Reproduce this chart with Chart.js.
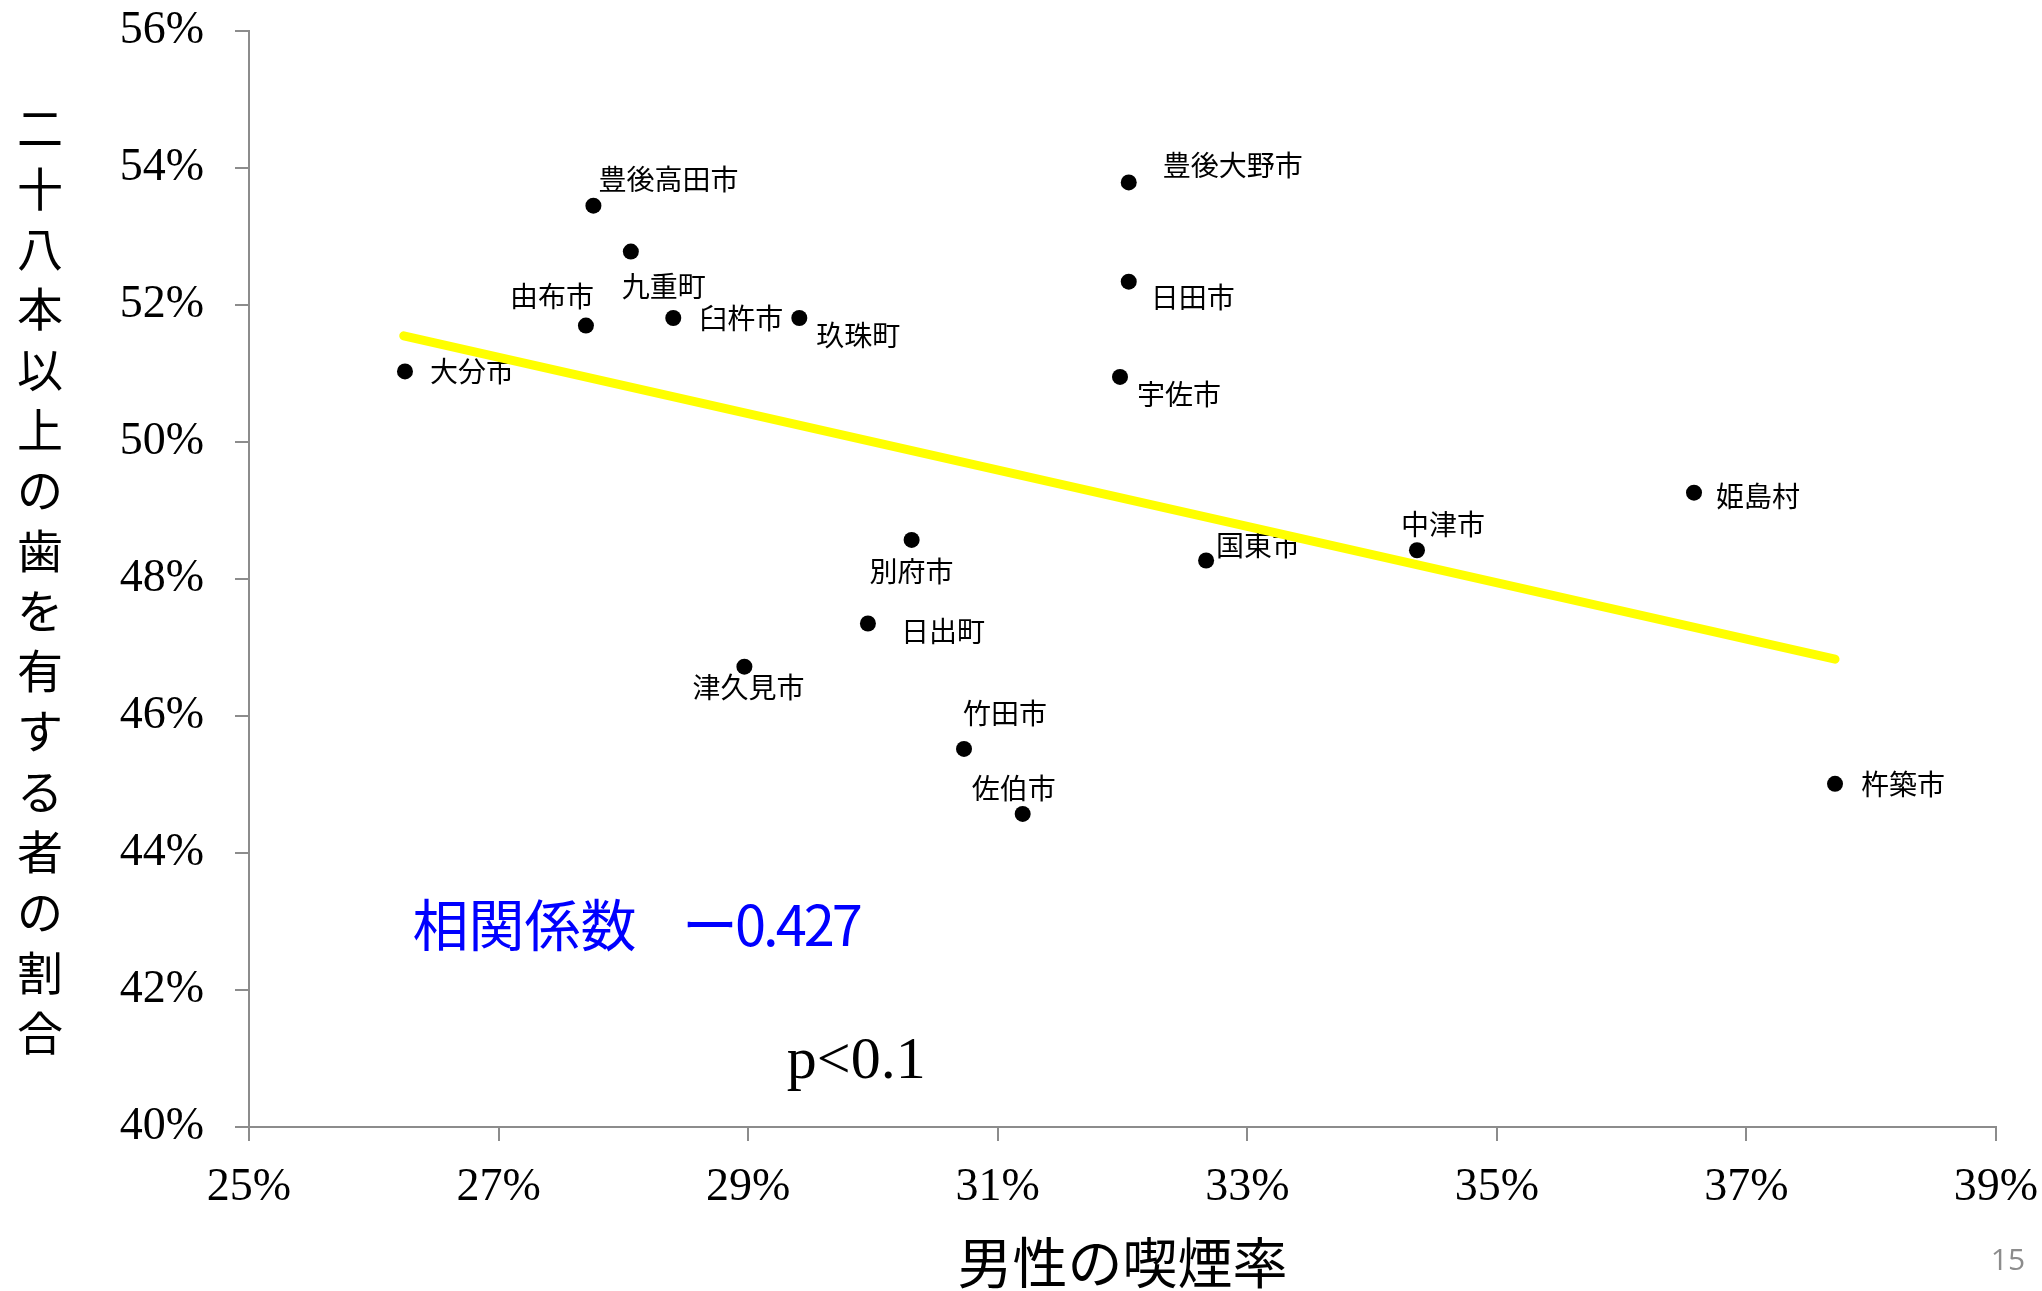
<!DOCTYPE html>
<html lang="ja">
<head>
<meta charset="utf-8">
<title>男性の喫煙率と二十八本以上の歯を有する者の割合</title>
<script src="https://cdn.jsdelivr.net/npm/chart.js@4.4.1/dist/chart.umd.min.js"></script>
<style>
html,body{margin:0;padding:0;background:#fff;}
#wrap{position:relative;width:2042px;height:1291px;}
</style>
</head>
<body>
<div id="wrap"><canvas id="chart"></canvas></div>
<script>
// ── 市町村別: 男性の喫煙率 × 二十八本以上の歯を有する者の割合 ──

const cities      = ['大分市','由布市','豊後高田市','九重町','臼杵市','玖珠町','津久見市','日出町','別府市','竹田市','佐伯市','宇佐市','日田市','豊後大野市','国東市','中津市','姫島村','杵築市'];
const smokingRate = [26.25,27.70,27.76,28.06,28.40,29.41,28.97,29.96,30.31,30.73,31.20,31.98,32.05,32.05,32.67,34.36,36.58,37.71];
const teethRate   = [51.03,51.70,53.45,52.78,51.81,51.81,46.72,47.35,48.57,45.52,44.57,50.95,52.34,53.79,48.27,48.42,49.26,45.01];
const trendX = [26.24,37.71];
const trendY = [51.55,46.83];
const xTicks = [25,27,29,31,33,35,37,39];
const yTicks = [40,42,44,46,48,50,52,54,56];
const xTitle = '男性の喫煙率';
const yTitle = '二十八本以上の歯を有する者の割合';
const corrLabel = '相関係数';
const corrValue = 'ー0.427';
const pText = 'p<0.1';
const pageNo = '15';

// label placement next to each dot: [dx, dy, align]
const labelPos = [
  [25,0,'left'],[8,-29,'right'],[5,-26,'left'],[-9,35,'left'],[26,0,'left'],[17,17,'left'],
  [4,21,'center'],[33,8,'left'],[0,31,'center'],[-1,-36,'left'],[-9,-26,'center'],[17,17,'left'],
  [22,16,'left'],[34,-17,'left'],[10,-15,'left'],[-16,-26,'left'],[22,4,'left'],[26,1,'left'],
];

const JP = '"Noto Sans CJK JP","Noto Sans",sans-serif';
const SERIF = '"Liberation Serif","DejaVu Serif",serif';
const AXIS = '#8c8c8c';

const pointLabels = {
  id:'pointLabels',
  beforeDatasetsDraw(chart){
    const meta = chart.getDatasetMeta(1);
    const ctx = chart.ctx;
    ctx.save();
    ctx.font = '28px '+JP;
    ctx.fillStyle = '#000';
    ctx.textBaseline = 'middle';
    meta.data.forEach((pt,i)=>{
      const [dx,dy,al] = labelPos[i];
      ctx.textAlign = al;
      ctx.fillText(cities[i], pt.x+dx, pt.y+dy);
    });
    ctx.restore();
  }
};

const notes = {
  id:'notes',
  afterDraw(chart){
    const ctx = chart.ctx;
    const x = chart.scales.x, y = chart.scales.y;
    ctx.save();
    // vertical y-axis title, one glyph per row
    ctx.font = '46px '+JP;
    ctx.fillStyle = '#000';
    ctx.textAlign = 'center';
    ctx.textBaseline = 'middle';
    [...yTitle].forEach((ch,i)=>ctx.fillText(ch, 40, 128+i*60.3));
    // correlation
    ctx.font = '56px '+JP;
    ctx.fillStyle = '#0000ff';
    ctx.textAlign = 'left';
    const cy = y.getPixelForValue(42.95);
    ctx.fillText(corrLabel, x.getPixelForValue(26.31), cy);
    ctx.letterSpacing = '-3px';
    ctx.fillText(corrValue, x.getPixelForValue(28.47), cy);
    ctx.letterSpacing = '0px';
    // p value
    ctx.font = '60px '+SERIF;
    ctx.fillStyle = '#000';
    ctx.textBaseline = 'alphabetic';
    ctx.fillText(pText, x.getPixelForValue(29.31), y.getPixelForValue(40.72));
    // slide number
    ctx.font = '30px "Open Sans",sans-serif';
    ctx.fillStyle = '#8c8c8c';
    ctx.textAlign = 'center';
    ctx.textBaseline = 'middle';
    ctx.fillText(pageNo, 2008, 1261);
    ctx.restore();
  }
};

const tickFont = {family:'"Liberation Serif","DejaVu Serif",serif', size:46};

new Chart(document.getElementById('chart').getContext('2d'),{
  type:'scatter',
  data:{datasets:[
    {label:'trend',data:trendX.map((v,i)=>({x:v,y:trendY[i]})),showLine:true,borderColor:'#ffff00',borderWidth:9,borderCapStyle:'round',pointRadius:0,fill:false},
    {label:'市町村',data:smokingRate.map((v,i)=>({x:v,y:teethRate[i]})),backgroundColor:'#000',borderWidth:0,pointRadius:8},
  ]},
  options:{
    responsive:true,maintainAspectRatio:false,animation:false,
    layout:{padding:{top:31,right:46,left:0,bottom:0}},
    plugins:{legend:{display:false},tooltip:{enabled:false}},
    scales:{
      x:{
        type:'linear',min:25,max:39,
        afterBuildTicks:s=>{ s.ticks = xTicks.map(v=>({value:v})); },
        afterFit:s=>{ s.height = 164; s.paddingLeft = 0; s.paddingRight = 0; },
        grid:{drawOnChartArea:false,drawTicks:true,tickLength:14,color:AXIS,lineWidth:2},
        border:{display:true,color:AXIS,width:2},
        ticks:{font:tickFont,color:'#000',padding:19,maxRotation:0,callback:v=>v+'%'},
        title:{display:true,text:xTitle,color:'#000',font:{family:JP,size:55,lineHeight:1.05},padding:0},
      },
      y:{
        type:'linear',min:40,max:56,
        afterBuildTicks:s=>{ s.ticks = yTicks.map(v=>({value:v})); },
        afterFit:s=>{ s.width = 249; s.paddingTop = 0; s.paddingBottom = 0; },
        grid:{drawOnChartArea:false,drawTicks:true,tickLength:14,color:AXIS,lineWidth:2},
        border:{display:true,color:AXIS,width:2},
        ticks:{font:tickFont,color:'#000',padding:31,callback:v=>v+'%'},
      },
    },
  },
  plugins:[pointLabels,notes],
});
</script>
</body>
</html>
